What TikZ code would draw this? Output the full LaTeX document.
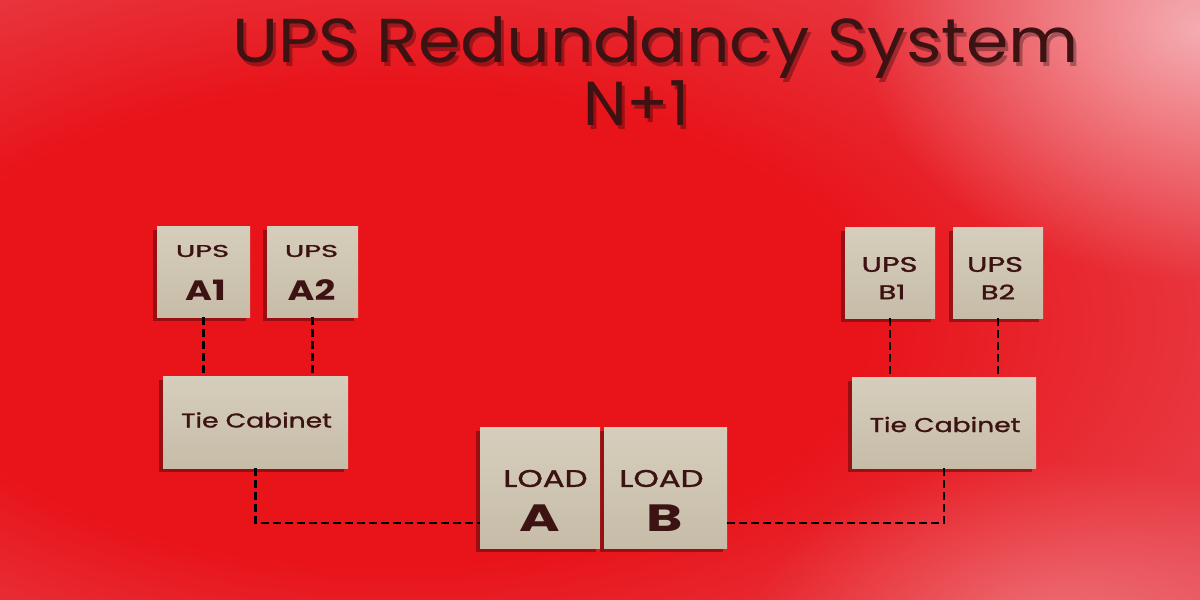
\documentclass[tikz,border=0pt]{standalone}
\usepackage{fontspec}
\setmainfont{Poppins}
\newfontfamily\popmed{Poppins}[FakeBold=1.2]
\usetikzlibrary{shadows,fadings,calc}
\definecolor{bgA}{HTML}{E8141A}
\definecolor{bgB}{HTML}{E8444E}
\definecolor{bgC}{HTML}{EE8890}
\definecolor{boxtop}{HTML}{D6CEBC}
\definecolor{boxbot}{HTML}{C6BCA8}
\definecolor{shadowc}{HTML}{5A0A0A}
\definecolor{ink}{HTML}{3C1212}
\newcommand{\hstretch}[2]{\scalebox{#1}[1]{#2}}
\pgfdeclareradialshading{bgshade}{\pgfpoint{-12bp}{-3bp}}{color(0bp)=(bgA); color(20bp)=(bgA); color(38bp)=(bgB); color(58bp)=(bgC); color(75bp)=(bgC)}
\tikzfading[name=glow, inner color=transparent!0, outer color=transparent!100]
\tikzset{
  box/.style={draw=none, top color=boxtop, bottom color=boxbot, inner sep=0pt,
    drop shadow={shadow xshift=-4pt, shadow yshift=-4pt, opacity=.55, fill=shadowc}},
  lbl/.style={text=ink, inner sep=0pt},
  link/.style={draw=black, line width=2.5pt, dash pattern=on 8pt off 4pt},
}
\begin{document}
\begin{tikzpicture}[x=1pt,y=-1pt]
\useasboundingbox (0,0) rectangle (1200,600);
% background
\begin{scope}
\clip (0,0) rectangle (1200,600);
\shade[shading=bgshade, yscale=.5] (0,0) rectangle (1200,1200);
\fill[white, opacity=.55, path fading=glow] (1200,30) ellipse (340 and 250);
\fill[white, opacity=.25, path fading=glow] (1050,620) ellipse (300 and 160);
\end{scope}
% title
\node[text=black, opacity=.3, inner sep=0pt, anchor=base, font=\fontsize{62}{62}\selectfont] (tsh) at (659,66) {\hstretch{1.1}{UPS Redundancy System}};
\node[lbl, anchor=base, font=\fontsize{62}{62}\selectfont] (title) at (656,62) {\hstretch{1.1}{UPS Redundancy System}};
\node[text=black, opacity=.3, inner sep=0pt, anchor=base, font=\fontsize{62}{62}\selectfont] (nsh) at (639,129) {N+1};
\node[lbl, anchor=base, font=\fontsize{62}{62}\selectfont] (n1) at (636,125) {N+1};
% boxes
\node[box, minimum width=93, minimum height=91] (A1) at (203.5,271.5) {};
\node[box, minimum width=91, minimum height=91] (A2) at (312.5,271.5) {};
\node[box, minimum width=90, minimum height=91] (B1) at (890,272.5) {};
\node[box, minimum width=90, minimum height=91] (B2) at (998,272.5) {};
\node[box, minimum width=185, minimum height=92] (TA) at (255.5,422) {};
\node[box, minimum width=184, minimum height=91] (TB) at (944,422.5) {};
\node[box, minimum width=120, minimum height=121] (LA) at (540,487.5) {};
\node[box, minimum width=123, minimum height=121] (LB) at (665.5,487.5) {};
% labels
\node[lbl, font=\fontsize{17}{17}\selectfont\popmed] (A1u) at (202.5,251) {\hstretch{1.7}{UPS}};
\node[lbl, font=\fontsize{28}{28}\selectfont\bfseries] (A1n) at (205.5,290) {\hstretch{1.3}{A1}};
\node[lbl, font=\fontsize{17}{17}\selectfont\popmed] (A2u) at (311.5,251) {\hstretch{1.7}{UPS}};
\node[lbl, font=\fontsize{28}{28}\selectfont\bfseries] (A2n) at (311.5,290) {\hstretch{1.3}{A2}};
\node[lbl, font=\fontsize{21}{21}\selectfont\popmed] (B1u) at (889.5,264.5) {\hstretch{1.45}{UPS}};
\node[lbl, font=\fontsize{20}{20}\selectfont\popmed] (B1n) at (892,292) {\hstretch{1.45}{B1}};
\node[lbl, font=\fontsize{21}{21}\selectfont\popmed] (B2u) at (995,264.5) {\hstretch{1.45}{UPS}};
\node[lbl, font=\fontsize{20}{20}\selectfont\popmed] (B2n) at (998,292) {\hstretch{1.45}{B2}};
\node[lbl, font=\fontsize{20}{20}\selectfont\popmed] (TAt) at (256.5,420) {\hstretch{1.33}{Tie Cabinet}};
\node[lbl, font=\fontsize{20}{20}\selectfont\popmed] (TBt) at (945,424.5) {\hstretch{1.33}{Tie Cabinet}};
\node[lbl, font=\fontsize{24}{24}\selectfont\popmed] (LAu) at (545.5,478.5) {\hstretch{1.35}{LOAD}};
\node[lbl, font=\fontsize{38}{38}\selectfont\bfseries] (LAn) at (540,518.5) {\hstretch{1.45}{A}};
\node[lbl, font=\fontsize{24}{24}\selectfont\popmed] (LBu) at (661.5,478.5) {\hstretch{1.35}{LOAD}};
\node[lbl, font=\fontsize{38}{38}\selectfont\bfseries] (LBn) at (664.5,518.5) {\hstretch{1.45}{B}};
% connectors
\draw[link] (A1.south) -- (A1.south |- TA.north);
\draw[link] (A2.south) -- (A2.south |- TA.north);
\draw[link] (B1.south) -- (B1.south |- TB.north);
\draw[link] (B2.south) -- (B2.south |- TB.north);
\coordinate (jA) at (255.5,523);
\coordinate (jB) at (944,523);
\draw[link] (TA.south) -- (jA) -- (jA -| LA.west);
\draw[link] (TB.south) -- (jB) -- (jB -| LB.east);
\end{tikzpicture}
\end{document}
